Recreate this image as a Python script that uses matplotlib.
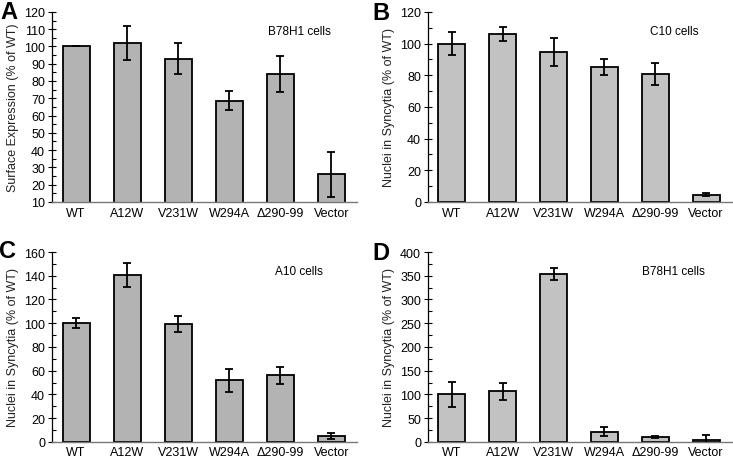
import matplotlib
matplotlib.use("Agg")
import matplotlib.pyplot as plt
from matplotlib.ticker import MultipleLocator

plt.rcParams["font.family"] = ["Liberation Sans", "DejaVu Sans"]

categories = ["WT", "A12W", "V231W", "W294A", "\u0394290-99", "Vector"]

# panel A: surface expression, B78H1 cells
surf_b78 = [100, 102, 93, 68.5, 84, 26]
surf_b78_err = [0, 10, 9, 5.5, 10.5, 13]

# panel B: syncytia, C10 cells
sync_c10 = [100, 106, 94.5, 85, 80.5, 4.5]
sync_c10_err = [7, 4.5, 9, 5, 7, 1]

# panel C: syncytia, A10 cells
sync_a10 = [100, 140.5, 99.5, 52, 56, 5]
sync_a10_err = [4, 10, 7, 9.5, 7.5, 2.5]

# panel D: syncytia, B78H1 cells
sync_b78 = [100, 107, 353, 22, 10, 5]
sync_b78_err = [27, 18, 13, 9, 2, 9]

W, H = 733, 460

panels = [
    ("A", (0, 1), [0.071, 0.559, 0.416, 0.413], surf_b78, surf_b78_err, "#b3b3b3",
     "Surface Expression (% of WT)", "B78H1 cells", (10, 120), 10, 5, 4),
    ("B", (372, 2), [0.584, 0.559, 0.414, 0.413], sync_c10, sync_c10_err, "#c2c2c2",
     "Nuclei in Syncytia (% of WT)", "C10 cells", (0, 120), 20, 10, 4),
    ("C", (-1, 240), [0.071, 0.037, 0.416, 0.413], sync_a10, sync_a10_err, "#b3b3b3",
     "Nuclei in Syncytia (% of WT)", "A10 cells", (0, 160), 20, 10, 3),
    ("D", (372, 242), [0.584, 0.037, 0.414, 0.413], sync_b78, sync_b78_err, "#c2c2c2",
     "Nuclei in Syncytia (% of WT)", "B78H1 cells", (0, 400), 50, 25, 3),
]

fig = plt.figure(figsize=(W / 100, H / 100), dpi=100)

for letter, lpos, rect, vals, errs, col, ylab, note, ylim, major, minor, xpad in panels:
    ax = fig.add_axes(rect)
    x = range(len(categories))
    ax.bar(x, vals, width=0.53, color=col, edgecolor="black", linewidth=1.3,
           zorder=2)
    ax.errorbar(x, vals, yerr=errs, fmt="none", ecolor="black", elinewidth=1.3,
                capsize=3.2, capthick=1.3, zorder=3)
    ax.set_ylim(*ylim)
    ax.set_xlim(-0.47, 5.5)
    ax.yaxis.set_major_locator(MultipleLocator(major))
    ax.yaxis.set_minor_locator(MultipleLocator(minor))
    ax.set_xticks(list(x))
    ax.set_xticklabels(categories, fontsize=9)
    ax.tick_params(axis="x", length=0, pad=xpad)
    ax.tick_params(axis="y", which="major", direction="inout", length=6,
                   width=0.8, labelsize=9, pad=2)
    ax.tick_params(axis="y", which="minor", direction="in", length=3, width=0.8)
    for s in ("top", "right"):
        ax.spines[s].set_visible(False)
    ax.spines["left"].set_linewidth(0.9)
    ax.spines["bottom"].set_color("#777777")
    ax.spines["bottom"].set_linewidth(1.0)
    ax.set_ylabel(ylab, fontsize=9, color="#222222", labelpad=4)
    ax.text(0.81, 0.9, note, transform=ax.transAxes, ha="center", va="center",
            fontsize=8.5)
    # panel letter, placed in figure pixels
    fig.text(lpos[0] / W, 1 - lpos[1] / H, letter, ha="left", va="top",
             fontsize=17, fontweight="bold")

fig.savefig("out.png", dpi=100)
